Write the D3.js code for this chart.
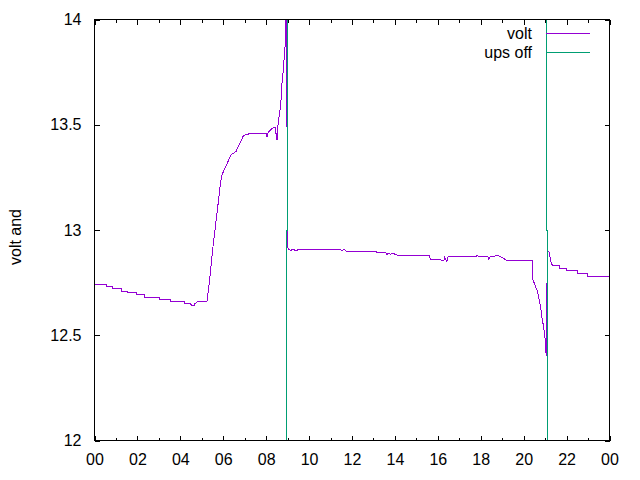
<!DOCTYPE html>
<html>
<head>
<meta charset="utf-8">
<script src="https://cdn.jsdelivr.net/npm/d3@7/dist/d3.min.js"></script>
<style>
  html, body { margin: 0; padding: 0; background: #fff; }
  svg { display: block; }
  text { font-family: "Liberation Sans", Arial, sans-serif; font-size: 16px; fill: #000; }
</style>
</head>
<body>
<svg id="chart" width="640" height="480"></svg>
<script>
// ---- data (hours of day, volts) ----
const voltHours = [
  0, 0.536, 0.536, 0.816, 0.816, 1.235, 1.235, 1.561, 1.561, 1.934, 1.934, 2.353, 2.353,
  3.052, 3.052, 3.565, 3.565, 4.171, 4.171, 4.450, 4.540, 4.637, 4.680, 4.777, 5.150,
  5.243, 5.383, 5.523, 5.616, 5.709, 5.802, 5.872, 5.942, 6.082, 6.221, 6.361, 6.594,
  6.780, 6.920, 7.013, 7.340, 8.025, 8.039, 8.060, 8.086, 8.132, 8.272, 8.412, 8.505,
  8.551, 8.645, 8.691, 8.738, 8.784, 8.831, 8.878, 8.924, 8.930, 8.971, 8.976, 8.994,
  9.018, 9.064, 9.157, 9.204, 9.437, 9.484, 11.441, 11.534, 11.627, 11.720, 13.151,
  13.165, 13.584, 13.631, 13.724, 13.794, 13.864, 14.097, 15.588, 15.635, 15.682,
  16.287, 16.300, 16.427, 16.474, 17.812, 17.825, 17.919, 18.338, 18.361, 18.431,
  18.804, 19.051, 19.177, 20.400, 20.414, 20.460, 20.553, 20.647, 20.786, 20.856,
  20.926, 20.996, 21.019, 21.066, 21.075, 21.110, 21.165, 21.195, 21.240, 21.285,
  21.330, 21.375, 21.661, 21.661, 21.973, 21.973, 22.532, 22.532, 22.998, 22.998, 24
];
const voltValues = [
  12.742, 12.742, 12.731, 12.731, 12.721, 12.721, 12.710, 12.710, 12.701, 12.701, 12.693, 12.693, 12.677,
  12.677, 12.668, 12.668, 12.658, 12.658, 12.650, 12.650, 12.641, 12.641, 12.650, 12.658, 12.658,
  12.661, 12.780, 12.922, 13.001, 13.082, 13.159, 13.224, 13.262, 13.295, 13.325, 13.357, 13.373,
  13.413, 13.444, 13.452, 13.460, 13.460, 13.442, 13.460, 13.460, 13.468, 13.482, 13.490, 13.428,
  13.499, 13.571, 13.618, 13.699, 13.746, 13.808, 13.870, 14.05, 13.490, 13.490, 13.000, 12.954,
  12.914, 12.908, 12.902, 12.908, 12.902, 12.908, 12.908, 12.902, 12.908, 12.900, 12.900,
  12.891, 12.891, 12.884, 12.891, 12.884, 12.891, 12.881, 12.881, 12.867, 12.859,
  12.857, 12.872, 12.851, 12.872, 12.872, 12.879, 12.872, 12.872, 12.860, 12.872,
  12.879, 12.867, 12.857, 12.857, 12.772, 12.756, 12.732, 12.708, 12.637, 12.582,
  12.542, 12.487, 12.432, 12.400, 12.655, 12.898, 12.898, 12.891, 12.867, 12.843,
  12.835, 12.830, 12.830, 12.819, 12.819, 12.808, 12.808, 12.792, 12.792, 12.778, 12.778
];
const upsHours = [8.985, 8.985, 8.960, 8.960, null, 21.068, 21.068, 21.105, 21.105];
const upsValues = [14, 13, 13, 12, null, 14, 13, 13, 12];

const xTickHours = [0, 2, 4, 6, 8, 10, 12, 14, 16, 18, 20, 22, 24];
const xMinorHours = [1, 3, 5, 7, 9, 11, 13, 15, 17, 19, 21, 23];
const yTickValues = [12, 12.5, 13, 13.5, 14];
const seriesNames = ["volt", "ups off"];
const yLabel = "volt and";

// ---- drawing ----
const colors = ["#9400d3", "#009e73"];
const FONT = "Liberation Sans, Arial, sans-serif";
const svg = d3.select("#chart");
const L = 94.5, R = 609.5, T = 19.5, B = 440.5;
const x = d3.scaleLinear().domain([0, 24]).range([L, R]);
const y = d3.scaleLinear().domain([12, 14]).range([B, T]);

svg.append("defs").append("clipPath").attr("id", "clip")
  .append("rect").attr("x", L).attr("y", T).attr("width", R - L).attr("height", B - T);

const fmtX = h => String(h % 24).padStart(2, "0");
const fmtY = v => String(v);

// bottom axis (major)
svg.append("g").attr("transform", `translate(0,${B})`)
  .call(d3.axisBottom(x).tickValues(xTickHours).tickFormat(fmtX).tickSizeInner(-5).tickSizeOuter(0).tickPadding(13))
  .call(g => g.select(".domain").remove())
  .call(g => g.selectAll("text").attr("font-size", 16).attr("font-family", FONT));
// bottom minor
svg.append("g").attr("transform", `translate(0,${B})`)
  .call(d3.axisBottom(x).tickValues(xMinorHours).tickFormat("").tickSizeInner(-3).tickSizeOuter(0))
  .call(g => g.select(".domain").remove());
// top mirror
svg.append("g").attr("transform", `translate(0,${T})`)
  .call(d3.axisTop(x).tickValues(xTickHours).tickFormat("").tickSizeInner(-5).tickSizeOuter(0))
  .call(g => g.select(".domain").remove());
svg.append("g").attr("transform", `translate(0,${T})`)
  .call(d3.axisTop(x).tickValues(xMinorHours).tickFormat("").tickSizeInner(-3).tickSizeOuter(0))
  .call(g => g.select(".domain").remove());
// left axis
svg.append("g").attr("transform", `translate(${L},0)`)
  .call(d3.axisLeft(y).tickValues(yTickValues).tickFormat(fmtY).tickSizeInner(-5).tickSizeOuter(0).tickPadding(13))
  .call(g => g.select(".domain").remove())
  .call(g => g.selectAll("text").attr("font-size", 16).attr("font-family", FONT));
// right mirror
svg.append("g").attr("transform", `translate(${R},0)`)
  .call(d3.axisRight(y).tickValues(yTickValues).tickFormat("").tickSizeInner(-5).tickSizeOuter(0))
  .call(g => g.select(".domain").remove());

svg.selectAll(".tick line").attr("stroke", "#000").attr("shape-rendering", "crispEdges");

// data lines
const voltData = voltHours.map((h, i) => [h, voltValues[i]]);
const upsData = upsHours.map((h, i) => [h, upsValues[i]]);
const line = d3.line().defined(d => d[0] !== null).x(d => x(d[0])).y(d => y(d[1]));

const plot = svg.append("g").attr("clip-path", "url(#clip)");
plot.append("path").datum(voltData).attr("d", line)
  .attr("fill", "none").attr("stroke", colors[0]).attr("stroke-width", 1).attr("shape-rendering", "crispEdges");
plot.append("path").datum(upsData).attr("d", line)
  .attr("fill", "none").attr("stroke", colors[1]).attr("stroke-width", 1).attr("shape-rendering", "crispEdges");

// frame
svg.append("rect").attr("x", L).attr("y", T).attr("width", R - L).attr("height", B - T)
  .attr("fill", "none").attr("stroke", "#000").attr("stroke-width", 1).attr("shape-rendering", "crispEdges");

// legend
const leg = svg.append("g");
seriesNames.forEach((name, i) => {
  const ly = 33.5 + i * 19;
  leg.append("text").attr("x", 532).attr("y", ly + 5.5).attr("text-anchor", "end").text(name);
  leg.append("line").attr("x1", 546).attr("x2", 590).attr("y1", ly).attr("y2", ly)
    .attr("stroke", colors[i]).attr("stroke-width", 1).attr("shape-rendering", "crispEdges");
});

// y label
svg.append("text").attr("transform", "translate(21,237) rotate(-90)")
  .attr("text-anchor", "middle").text(yLabel);
</script>
</body>
</html>
